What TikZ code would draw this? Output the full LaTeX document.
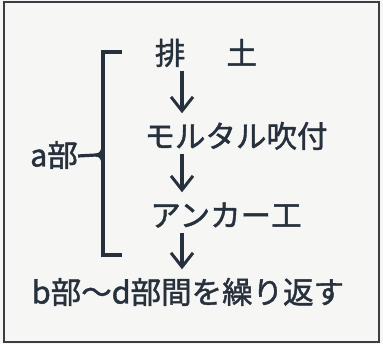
\documentclass[tikz,border=0pt]{standalone}
\usepackage{fontspec}
\newfontfamily\jpfont{Noto Sans CJK JP}[RawFeature={embolden=1.4}]
\usetikzlibrary{arrows.meta}
\definecolor{ink}{HTML}{27313D}
\definecolor{paper}{HTML}{F6F6F4}
\definecolor{frame}{HTML}{3A3D42}
\tikzset{
	txt/.style={font=\jpfont\fontsize{30.5}{36}\selectfont, text=ink, inner sep=0pt, text height=25pt, text depth=4pt},
	line/.style={draw=ink, line width=3.2pt},
	flow/.style={line, -{Straight Barb[length=14pt, width=22pt, line width=3pt]}, shorten <=2pt, shorten >=9pt},
}
\begin{document}
\begin{tikzpicture}[x=1pt, y=-1pt]

		% frame
		\fill [paper] (0,0) rectangle (383,344);
		\draw [frame, line width=2pt] (4,2) rectangle (379,342);
		\useasboundingbox (0,0) rectangle (383,344);

		% steps
		\node [txt] (haido)  at (206, 54) {排\hspace{1.35em}土};
		\node [txt] (mortar) at (236,137) {モルタル吹付};
		\node [txt] (anchor) at (226,216) {アンカー工};
		\node [txt] (repeat) at (188,293) {b部～d部間を繰り返す};
		\coordinate (ax) at (182,0);

		\draw [flow] (haido.south -| ax)  -- (mortar.north -| ax);
		\draw [flow] (mortar.south -| ax) -- (anchor.north -| ax);
		\draw [flow] (anchor.south -| ax) -- (repeat.north -| ax);

		% a bu
		\node [txt] (abu) at (54,156) {a部};
		\draw [line] (122,52) -- (103,52) -- (103,255) -- (122,255);
		\draw [line] (abu.east) -- (96,155)
			.. controls (100,155) and (103,152) .. (103,146);
		\draw [line] (96,155)
			.. controls (100,155) and (103,158) .. (103,164);

	\end{tikzpicture}
\end{document}
